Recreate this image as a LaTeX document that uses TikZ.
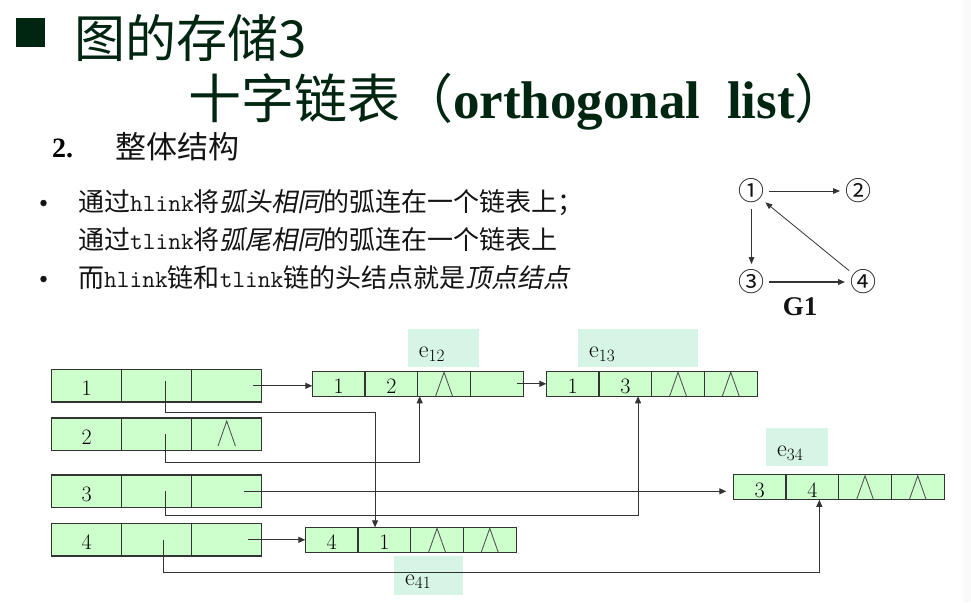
\documentclass[tikz,border=0pt]{standalone}
\usepackage{fontspec}
\usetikzlibrary{arrows.meta}
\newfontfamily\cjk{Noto Sans CJK SC}
\newfontfamily\cjkslant[FakeSlant=0.2]{Noto Sans CJK SC}
\newfontfamily\headserif{Liberation Serif}
\newcommand{\code}[1]{{\ttfamily\fontsize{24.7}{26}\selectfont #1}}
\newcommand{\slanted}[1]{{\cjkslant #1}}

\definecolor{titlegreen}{RGB}{0,38,18}
\definecolor{cellgreen}{RGB}{204,255,204}
\definecolor{tagmint}{RGB}{214,245,230}
\definecolor{ink}{RGB}{51,51,51}
\definecolor{nilgray}{RGB}{85,85,85}
\definecolor{bodytext}{RGB}{20,20,20}

\tikzset{
  cell/.style={draw=ink, line width=1.2pt, fill=cellgreen, inner sep=0pt, outer sep=0pt,
    minimum width=70pt, minimum height=32.5pt, text height=19.5pt, text depth=0pt,
    font=\fontsize{22}{22}\selectfont, text=black},
  arccell/.style={cell, minimum width=52.7pt, minimum height=25pt},
  tag/.style={fill=tagmint, inner sep=0pt, outer sep=0pt, minimum height=37.7pt},
  tagtext/.style={anchor=base west, inner sep=0pt, font=\fontsize{24}{24}\selectfont},
  link/.style={draw=ink, line width=1.1pt, -{Triangle[length=7pt,width=6pt]}},
  nil/.style={draw=nilgray, line width=0.9pt},
  gvertex/.style={circle, inner sep=0pt, minimum size=24pt, text=bodytext,
    font=\cjk\fontsize{26}{26}\selectfont},
  gedge/.style={draw=ink, line width=1pt, -{Triangle[length=7pt,width=5.5pt]}},
  headline/.style={anchor=base west, inner sep=0pt, text=titlegreen},
  bodyline/.style={anchor=base west, inner sep=0pt, text=bodytext,
    font=\cjk\fontsize{26}{26}\selectfont},
  bulletdot/.style={circle, fill=bodytext, inner sep=0pt, minimum size=6.5pt},
}

% a vertex record: data | firstin | firstout
\newcommand{\vertexrow}[3]{%
  \node[cell] (#1a) at (86.7,#2) {#3};
  \node[cell] (#1b) at (156.7,#2) {};
  \node[cell] (#1c) at (226.7,#2) {};}

% an arc record: tailvex | headvex | hlink | tlink
\newcommand{\arcrecord}[5]{%
  \node[arccell, anchor=west] (#1a) at (#2,#3) {#4};
  \node[arccell, anchor=west] (#1b) at (#1a.east) {#5};
  \node[arccell, anchor=west] (#1c) at (#1b.east) {};
  \node[arccell, anchor=west] (#1d) at (#1c.east) {};}

% the null-pointer mark drawn inside a cell
\newcommand{\nilmark}[4]{%
  \draw[nil] ([xshift=-#2pt, yshift=#4pt]#1.south) -- ([yshift=-#3pt]#1.north)
    -- ([xshift=#2pt, yshift=#4pt]#1.south);}

\begin{document}
\begin{tikzpicture}[x=1pt, y=-1pt]
\fill[white] (0,0) rectangle (971,602);
\fill[black!2] (963,0) rectangle (971,602);
\useasboundingbox (0,0) rectangle (971,602);

% headings
\node[fill=titlegreen, inner sep=0pt, minimum size=29pt] (mark) at (30.5,32.5) {};
\node[headline, font=\cjk\fontsize{51}{51}\selectfont] (title) at (74,58) {图的存储3};
\node[headline, font=\cjk\fontsize{53}{53}\selectfont] (subtitle) at (188,118)
  {十字链表（{\headserif\bfseries orthogonal\ \ list}）};
\node[anchor=base west, inner sep=0pt, text=black,
  font=\headserif\bfseries\fontsize{28}{28}\selectfont] (secnum) at (52,157) {2.};
\node[anchor=base west, inner sep=0pt, text=bodytext,
  font=\cjk\fontsize{31}{31}\selectfont] (sectitle) at (115,158) {整体结构};

% bullet points
\node[bulletdot] (b1) at (43.5,203) {};
\node[bulletdot] (b2) at (43.5,279) {};
\node[bodyline] (line1) at (78,211) {通过\code{hlink}将\slanted{弧头相同}的弧连在一个链表上；};
\node[bodyline] (line2) at (78,249) {通过\code{tlink}将\slanted{弧尾相同}的弧连在一个链表上};
\node[bodyline] (line3) at (78,287) {而\code{hlink}链和\code{tlink}链的头结点就是\slanted{顶点结点}};

% the digraph G1
\node[gvertex] (g1) at (751.5,191) {①};
\node[gvertex] (g2) at (858,191) {②};
\node[gvertex] (g3) at (751.5,282) {③};
\node[gvertex] (g4) at (863,282) {④};
\node[font=\headserif\bfseries\fontsize{27}{27}\selectfont, text=bodytext, inner sep=0pt]
  (gname) at (800,306.7) {G1};
\draw[gedge] (g1) -- (g2);
\draw[gedge] (g1) -- (g3);
\draw[gedge, line width=1.6pt] (g3) -- (g4);
\draw[gedge, line width=0.8pt] (g4) -- (g1);

% arc name tags
\node[tag, minimum width=71.3pt] (tag12) at (443.35,347.85) {};
\node[tag, minimum width=120pt] (tag13) at (638,347.85) {};
\node[tag, minimum width=61.7pt] (tag34) at (796.85,446.85) {};
\node[tag, minimum width=68.7pt, minimum height=38.7pt] (tag41) at (428.35,575.35) {};
\node[tagtext, xshift=11pt, yshift=9pt] (lab12) at (tag12.south west) {e$_{12}$};
\node[tagtext, xshift=11pt, yshift=9pt] (lab13) at (tag13.south west) {e$_{13}$};
\node[tagtext, xshift=11pt, yshift=9pt] (lab34) at (tag34.south west) {e$_{34}$};
\node[tagtext, xshift=11pt, yshift=9.7pt] (lab41) at (tag41.south west) {e$_{41}$};

% vertex records
\vertexrow{v1}{385.8}{1}
\vertexrow{v2}{434.3}{2}
\vertexrow{v3}{491.3}{3}
\vertexrow{v4}{539.8}{4}
\nilmark{v2c}{8.7}{3}{4.5}

% arc records
\arcrecord{e12}{312.3}{383.8}{1}{2}
\arcrecord{e13}{546.3}{383.8}{1}{3}
\arcrecord{e34}{733.3}{487.3}{3}{4}
\arcrecord{e41}{305.3}{539.8}{4}{1}
\nilmark{e12c}{8.5}{1}{0}
\nilmark{e13c}{8.5}{1}{0}
\nilmark{e13d}{8.5}{1}{0}
\nilmark{e34c}{8.5}{1}{0}
\nilmark{e34d}{8.5}{1}{0}
\nilmark{e41c}{8.5}{1}{0}
\nilmark{e41d}{8.5}{1}{0}

% tlink chains (arcs with the same tail)
\coordinate (t1) at ([xshift=26.6pt]v1c.center);
\draw[link] (t1) -- (t1 -| e12a.west);
\coordinate (t12) at ([xshift=20.6pt]e12d.center);
\draw[link] (t12) -- (t12 -| e13a.west);
\coordinate (t3) at ([xshift=17.6pt]v3c.center);
\draw[link, shorten >=7pt] (t3) -- (t3 -| e34a.west);
\coordinate (t4) at ([xshift=21.6pt]v4c.center);
\draw[link] (t4) -- (t4 -| e41a.west);

% hlink chains (arcs with the same head)
\coordinate (h1) at ([xshift=8.6pt, yshift=4.8pt]v1b.center);
\draw[link] (h1) -- ++(0,31.3) -| ([xshift=-9.3pt]e41b.north);
\coordinate (h2) at ([xshift=8.6pt]v2b.center);
\draw[link] (h2) -- ++(0,28) -| ([xshift=2pt]e12c.south west);
\coordinate (h3) at ([xshift=8.6pt]v3b.center);
\draw[link] (h3) -- ++(0,24) -| ([xshift=12.7pt]e13b.south);
\coordinate (h4) at ([xshift=6.6pt, yshift=-0.5pt]v4b.center);
\draw[link] (h4) -- ++(0,32) -| ([xshift=7pt]e34b.south);
\end{tikzpicture}
\end{document}
